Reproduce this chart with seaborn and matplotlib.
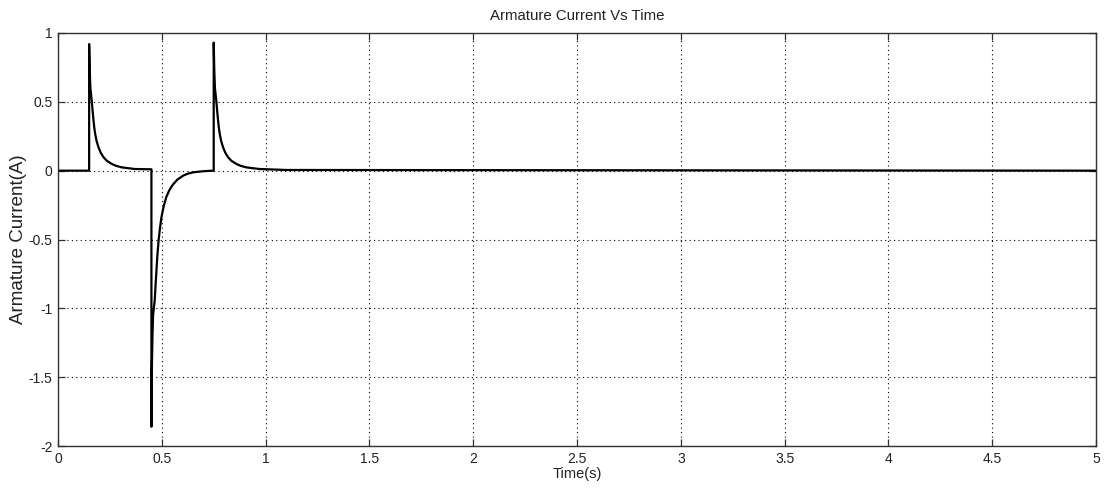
import matplotlib
matplotlib.use("Agg")
import matplotlib.pyplot as plt
import seaborn as sns
import pandas as pd

# ---- data ----
time_s = [0.0, 0.150, 0.150, 0.153, 0.156, 0.163, 0.167, 0.171, 0.175, 0.179,
          0.186, 0.195, 0.206, 0.219, 0.235, 0.259, 0.280, 0.307, 0.370, 0.450,
          0.450, 0.452, 0.455, 0.458, 0.466, 0.470, 0.474, 0.479, 0.485, 0.491,
          0.498, 0.509, 0.522, 0.537, 0.554, 0.575, 0.603, 0.625, 0.651, 0.700,
          0.750, 0.750, 0.753, 0.756, 0.763, 0.767, 0.771, 0.775, 0.779, 0.786,
          0.795, 0.806, 0.819, 0.835, 0.859, 0.880, 0.907, 0.970, 1.100, 5.000]
current_a = [0.0, 0.0, 0.92, 0.72, 0.60, 0.50, 0.43, 0.366, 0.31, 0.268,
             0.215, 0.17, 0.13, 0.098, 0.072, 0.049, 0.035, 0.024, 0.012, 0.010,
             -1.86, -1.45, -1.20, -1.05, -0.94, -0.83, -0.73, -0.61, -0.50, -0.42,
             -0.34, -0.26, -0.19, -0.14, -0.10, -0.065, -0.036, -0.022, -0.012, -0.004,
             0.0, 0.93, 0.72, 0.60, 0.50, 0.43, 0.366, 0.31, 0.268, 0.215,
             0.17, 0.13, 0.098, 0.072, 0.049, 0.035, 0.024, 0.012, 0.005, 0.0]
x_ticks = [0, 0.5, 1, 1.5, 2, 2.5, 3, 3.5, 4, 4.5, 5]
x_tick_labels = ["0", "0.5", "1", "1.5", "2", "2.5", "3", "3.5", "4", "4.5", "5"]
y_ticks = [-2, -1.5, -1, -0.5, 0, 0.5, 1]
y_tick_labels = ["-2", "-1.5", "-1", "-0.5", "0", "0.5", "1"]
title = "Armature Current Vs Time"
x_label = "Time(s)"
y_label = "Armature Current(A)"

sns.set_theme(style="white")
plt.rcParams["font.family"] = ["Liberation Sans", "DejaVu Sans"]

df = pd.DataFrame({"t": time_s, "i": current_a})

fig = plt.figure(figsize=(11.07, 4.97), dpi=100)
ax = fig.add_axes([58 / 1107, (497 - 446) / 497, (1096 - 58) / 1107, (446 - 33) / 497])

sns.lineplot(data=df, x="t", y="i", ax=ax, estimator=None, sort=False,
             color="black", linewidth=1.6)

ax.set_xlim(0, 5)
ax.set_ylim(-2, 1)
ax.set_xticks(x_ticks)
ax.set_xticklabels(x_tick_labels)
ax.set_yticks(y_ticks)
ax.set_yticklabels(y_tick_labels)

ax.grid(True, color="black", linestyle=(0, (1, 3)), linewidth=0.8)
for s in ax.spines.values():
    s.set_color("#333333")
    s.set_linewidth(1.0)
    s.set_visible(True)

ax.tick_params(axis="both", which="both", direction="in", length=5, width=0.9,
               color="#333333", top=True, right=True, bottom=True, left=True,
               labelsize=10, labelcolor="#222222", pad=4)

ax.set_title(title, fontsize=10.8, color="#222222", pad=9)
ax.set_xlabel(x_label, fontsize=10.5, color="#222222", labelpad=1)
ax.set_ylabel(y_label, fontsize=13.5, color="#222222", labelpad=1)

fig.savefig("out.png", dpi=100, facecolor="white")
